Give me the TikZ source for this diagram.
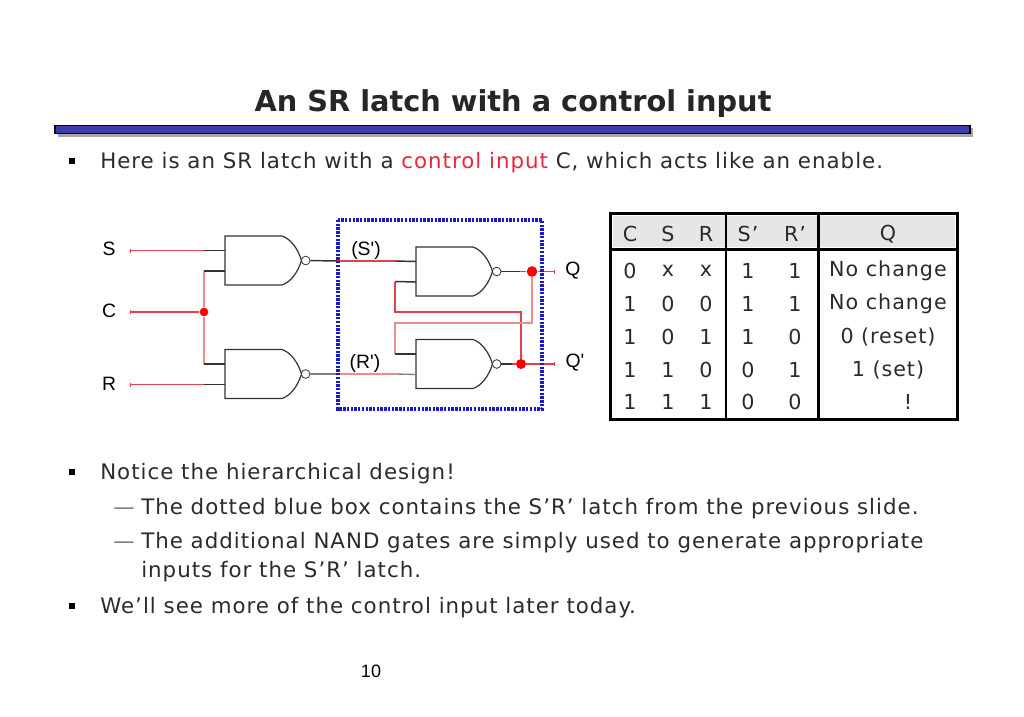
\documentclass[tikz,border=0pt]{standalone}
\usepackage{xcolor}
\usepackage{fontspec}
\setmainfont{DejaVu Sans}
\newfontfamily\bodyfont[LetterSpace=4.7]{DejaVu Sans}
\newfontfamily\arialfont{Liberation Sans}
\usetikzlibrary{positioning,arrows.meta}
\definecolor{barblue}{HTML}{3C3CA8}
\definecolor{wirered}{HTML}{E2404C}
\definecolor{palered}{HTML}{EE8C90}
\definecolor{wiredark}{HTML}{333333}
\definecolor{boxblue}{HTML}{1A1AC8}
\definecolor{headgray}{HTML}{E6E6E6}
\definecolor{textgray}{HTML}{2B2B2B}
\definecolor{ctrlred}{HTML}{E8283C}
\tikzset{
  line/.style={anchor=base west,inner sep=0pt,text=textgray,font=\bodyfont\fontsize{16}{18}\selectfont},
  cell/.style={inner sep=0pt,text=textgray,font=\bodyfont\fontsize{15.5}{18}\selectfont},
  pinlabel/.style={inner sep=0pt,font=\arialfont\fontsize{14.5}{16}\selectfont},
  bullet/.style={fill=black,inner sep=0pt,minimum size=5pt},
  gate/.style={draw=wiredark,line width=0.9pt},
  bubble/.style={circle,draw=wiredark,fill=white,line width=0.6pt,inner sep=0pt,minimum size=6.5pt},
  redwire/.style={draw=wirered,line width=1.1pt},
  palewire/.style={draw=palered,line width=1pt},
  stub/.style={draw=wiredark,line width=1.1pt},
  junction/.style={circle,fill=red,inner sep=0pt,minimum size=6.5pt},
}
% gate body, corner (x,y), height 49
\newcommand{\nandgate}[3]{
  \draw[gate] (#2,#3) -- (#2+57,#3) .. controls (#2+66,#3+3) and (#2+73,#3+13) .. (#2+76.5,#3+24.5)
    .. controls (#2+73,#3+36) and (#2+66,#3+46) .. (#2+57,#3+49) -- (#2,#3+49) -- cycle;
  \node[bubble] (#1out) at (#2+80.7,#3+24.5) {};
  \coordinate (#1a) at (#2,#3+14.5);
  \coordinate (#1b) at (#2,#3+35);
}
\begin{document}
\begin{tikzpicture}[x=0.75pt,y=-0.75pt]
\useasboundingbox (0,0) rectangle (1024,717);
\fill[white] (0,0) rectangle (1024,717);

% title
\node[anchor=base,inner sep=0pt,text=black!85,font=\bfseries\fontsize{21.6}{26}\selectfont] (title) at (513,112) {An SR latch with a control input};
\fill[black!35] (58,128) rectangle (973,137);
\draw[fill=barblue,line width=1pt] (55,125.5) rectangle (970,133.5);

% text lines
\node[bullet] (b1) at (72,161) {};
\node[line] (t1) at (100,168) {Here is an SR latch with a \textcolor{ctrlred}{control input} C, which acts like an enable.};
\node[bullet] (b2) at (72,472) {};
\node[line] (t2) at (100,479) {Notice the hierarchical design!};
\node[line] (d1) at (113,514) {\textcolor{black!55}{—}};
\node[line] (t3) at (141,514) {The dotted blue box contains the S’R’ latch from the previous slide.};
\node[line] (d2) at (113,548) {\textcolor{black!55}{—}};
\node[line] (t4) at (141,548) {The additional NAND gates are simply used to generate appropriate};
\node[line] (t5) at (141,577) {inputs for the S’R’ latch.};
\node[bullet] (b3) at (72,606) {};
\node[line] (t6) at (100,613) {We’ll see more of the control input later today.};
\node[inner sep=0pt,font=\arialfont\fontsize{13.5}{16}\selectfont] (page) at (371,671) {10};

% gates
\nandgate{g1}{225}{236}
\nandgate{g2}{225}{349.5}
\nandgate{g3}{416}{247}
\nandgate{g4}{416}{339.5}

% pins
\node[pinlabel] (S) at (109,249) {S};
\node[pinlabel] (C) at (109,311) {C};
\node[pinlabel] (R) at (109,384) {R};
\node[pinlabel] (Q) at (573,271) {Q};
\node[pinlabel] (Qp) at (575,363) {Q'};
\node[pinlabel] (Sl) at (366,250) {(S')};
\node[pinlabel] (Rl) at (365,363) {(R')};
\coordinate (Sin) at (130,250.5);
\coordinate (Cin) at (130,312);
\coordinate (Rin) at (130,384.5);
\coordinate (Qend) at (555,271.5);
\coordinate (Qpend) at (555,364);

% junctions
\node[junction] (jc) at (204,312) {};
\node[junction,minimum width=8pt,minimum height=6.5pt] (jq) at (532,271.5) {};
\node[junction,minimum width=7.5pt,minimum height=6.5pt] (jqp) at (521,364) {};

% inputs
\draw[redwire,{Bar[width=3pt,length=0pt]}-] (Sin) -- (204,250.5);
\draw[redwire,{Bar[width=3pt,length=0pt]}-] (Cin) -- (jc);
\draw[redwire,{Bar[width=3pt,length=0pt]}-] (Rin) -- (204,384.5);
\draw[stub] (204,250.5) -- (g1a);
\draw[stub] (204,384.5) -- (g2b);
\draw[palewire] (jc) -- (204,271);
\draw[palewire] (jc) -- (204,364);
\draw[stub] (204,271) -- (g1b);
\draw[stub] (204,364) -- (g2a);

% between the latches
\draw[stub] (g1out) -- (338,261);
\draw[redwire] (338,261) -- (395,261);
\draw[stub] (395,261) -- (g3a);
\draw[draw=black!50,line width=1pt] (g2out) -- (338,374);
\draw[palewire] (338,374) -- (395,374);
\draw[draw=black!50,line width=1pt] (395,374) -- (g4b);

% outputs and feedback
\draw[stub] (g3out) -- (520,271.5);
\draw[stub] (g4out) -- (512,364);
\draw[redwire] (520,271.5) -- (jq);
\draw[redwire] (512,364) -- (jqp);
\draw[redwire,-{Bar[width=3pt,length=0pt]}] (jq) -- (Qend);
\draw[redwire,-{Bar[width=3pt,length=0pt]}] (jqp) -- (Qpend);
\draw[redwire] (jqp) -- (521,312) -- (395,312) -- (395,281.5);
\draw[stub] (395,281.5) -- (g3b);
\draw[palewire] (jq) -- (532,323) -- (395,323) -- (395,354);
\draw[stub] (395,354) -- (g4a);

% latch box
\draw[boxblue,line width=2.6pt,dash pattern=on 1.8pt off 1pt] (338,220) rectangle (542,409);

% table
\fill[headgray] (613,216) rectangle (955,247);
\draw[line width=2.2pt] (610.5,213.5) rectangle (957.5,419.5);
\draw[line width=2.2pt] (726,213.5) -- (726,419.5);
\draw[line width=2.2pt] (818.5,213.5) -- (818.5,419.5);
\draw[line width=2.2pt] (610.5,249.5) -- (957.5,249.5);

% table header
\foreach \xpos/\txt [count=\i] in {630/C,668/S,706/R,748/S’,795/R’,888/Q}
  \node[cell] (head\i) at (\xpos,234) {\txt};

% table rows
\foreach \ypos/\c/\s/\r/\sp/\rp/\qx/\q [count=\i] in {
  271/0/x/x/1/1/888/No change,
  304/1/0/0/1/1/888/No change,
  337/1/0/1/1/0/888/0 (reset),
  370/1/1/0/0/1/888/1 (set),
  402/1/1/1/0/0/908/!}
{
  \node[cell] (rowc\i) at (630,\ypos) {\c};
  \node[cell] (rows\i) at (668,\ypos) {\s};
  \node[cell] (rowr\i) at (706,\ypos) {\r};
  \node[cell] (rowsp\i) at (748,\ypos) {\sp};
  \node[cell] (rowrp\i) at (795,\ypos) {\rp};
  \node[cell] (rowq\i) at (\qx,\ypos) {\q};
}
\end{tikzpicture}
\end{document}
